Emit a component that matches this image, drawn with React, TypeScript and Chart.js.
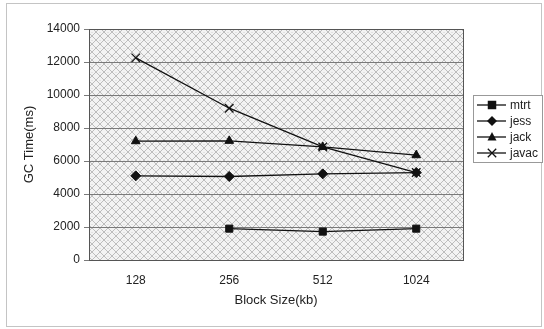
import React, { useEffect, useRef } from "react";
import { Chart, registerables } from "chart.js";

Chart.register(...registerables);

const categories = ["128", "256", "512", "1024"];
const mtrt = [null, 1900, 1720, 1900];
const jess = [5100, 5060, 5220, 5300];
const jack = [7200, 7220, 6850, 6350];
const javac = [12250, 9200, 6850, 5300];
const seriesNames = ["mtrt", "jess", "jack", "javac"];
const markerStyles = ["rect", "rectRot", "triangle", "crossRot"];
const markerRadius = [5, 5, 5, 6];

const FONT = "'Liberation Sans', Arial, sans-serif";

// diamond crosshatch fill for the plot area
function makeHatch(ctx: CanvasRenderingContext2D) {
  const c = document.createElement("canvas");
  c.width = 8;
  c.height = 8;
  const g = c.getContext("2d")!;
  g.fillStyle = "#f3f3f3";
  g.fillRect(0, 0, 8, 8);
  g.strokeStyle = "#bdbdbd";
  g.lineWidth = 1;
  g.beginPath();
  g.moveTo(0, 0);
  g.lineTo(8, 8);
  g.moveTo(8, 0);
  g.lineTo(0, 8);
  g.stroke();
  g.fillStyle = "#d2d2d2";
  g.fillRect(3.5, 0, 1, 1);
  return ctx.createPattern(c, "repeat");
}

function drawMarker(ctx: CanvasRenderingContext2D, style: string, r: number, x: number, y: number) {
  ctx.save();
  ctx.fillStyle = "#111";
  ctx.strokeStyle = "#111";
  ctx.lineWidth = 1.3;
  ctx.beginPath();
  if (style === "rect") {
    ctx.rect(x - r * 0.85, y - r * 0.85, r * 1.7, r * 1.7);
    ctx.fill();
  } else if (style === "rectRot") {
    ctx.moveTo(x, y - r);
    ctx.lineTo(x + r, y);
    ctx.lineTo(x, y + r);
    ctx.lineTo(x - r, y);
    ctx.closePath();
    ctx.fill();
  } else if (style === "triangle") {
    ctx.moveTo(x, y - r);
    ctx.lineTo(x + r * 0.9, y + r * 0.7);
    ctx.lineTo(x - r * 0.9, y + r * 0.7);
    ctx.closePath();
    ctx.fill();
  } else {
    const d = r * 0.7;
    ctx.moveTo(x - d, y - d);
    ctx.lineTo(x + d, y + d);
    ctx.moveTo(x + d, y - d);
    ctx.lineTo(x - d, y + d);
    ctx.stroke();
  }
  ctx.restore();
}

const plotBackground = {
  id: "plotBackground",
  beforeDraw(chart: any) {
    const { ctx, chartArea: a } = chart;
    ctx.save();
    ctx.fillStyle = "#fff";
    ctx.fillRect(0, 0, chart.width, chart.height);
    ctx.strokeStyle = "#c4c4c4";
    ctx.lineWidth = 1;
    ctx.strokeRect(6.5, 3.5, 535, 323);
    const p = makeHatch(ctx);
    if (p) ctx.fillStyle = p;
    ctx.fillRect(a.left, a.top, a.right - a.left, a.bottom - a.top);
    ctx.restore();
  },
  afterDatasetsDraw(chart: any) {
    const { ctx, chartArea: a } = chart;
    ctx.save();
    ctx.strokeStyle = "#555";
    ctx.lineWidth = 1;
    ctx.strokeRect(Math.round(a.left) + 0.5, Math.round(a.top) + 0.5, Math.round(a.right - a.left), Math.round(a.bottom - a.top));
    ctx.restore();
  },
};

const sideLegend = {
  id: "sideLegend",
  afterDraw(chart: any) {
    const { ctx } = chart;
    const x0 = 473, y0 = 95, w = 69, h = 67;
    ctx.save();
    ctx.fillStyle = "#fff";
    ctx.fillRect(x0, y0, w, h);
    ctx.strokeStyle = "#999";
    ctx.lineWidth = 1;
    ctx.strokeRect(x0 + 0.5, y0 + 0.5, w, h);
    ctx.font = `12px ${FONT}`;
    ctx.textBaseline = "middle";
    ctx.textAlign = "left";
    seriesNames.forEach((name, i) => {
      const y = 105 + i * 16;
      ctx.strokeStyle = "#111";
      ctx.lineWidth = 1.3;
      ctx.beginPath();
      ctx.moveTo(477, y);
      ctx.lineTo(506, y);
      ctx.stroke();
      drawMarker(ctx, markerStyles[i], markerRadius[i], 492, y);
      ctx.fillStyle = "#222";
      ctx.fillText(name, 510, y + 0.5);
    });
    ctx.restore();
  },
};

export default function App() {
  const ref = useRef<HTMLCanvasElement>(null);

  useEffect(() => {
    const canvas = ref.current!;
    const values = [mtrt, jess, jack, javac];
    const chart = new Chart(canvas, {
      type: "line",
      data: {
        labels: categories,
        datasets: seriesNames.map((name, i) => ({
          label: name,
          data: values[i] as any,
          borderColor: "#111",
          backgroundColor: "#111",
          borderWidth: 1.3,
          pointStyle: markerStyles[i] as any,
          pointRadius: markerRadius[i],
          pointBorderWidth: markerStyles[i] === "crossRot" ? 1.3 : 1,
          pointBorderColor: "#111",
          pointBackgroundColor: "#111",
          tension: 0,
          spanGaps: false,
        })),
      },
      options: {
        responsive: false,
        animation: false,
        layout: { padding: { left: 0, right: 81, top: 29, bottom: 0 } },
        plugins: { legend: { display: false }, tooltip: { enabled: false } },
        scales: {
          x: {
            type: "category",
            offset: true,
            grid: { display: false, drawTicks: false },
            border: { display: false },
            ticks: { color: "#222", font: { family: FONT, size: 12 }, padding: 13 },
            title: {
              display: true,
              text: "Block Size(kb)",
              color: "#222",
              font: { family: FONT, size: 13 },
              padding: { top: 0, bottom: 21 },
            },
            afterFit(s: any) {
              s.height = 69;
            },
          },
          y: {
            min: 0,
            max: 14000,
            ticks: {
              stepSize: 2000,
              color: "#222",
              font: { family: FONT, size: 12 },
              padding: 4,
              callback: (v: any) => String(v),
            },
            grid: { color: "#7a7a7a", lineWidth: 1, tickLength: 5, drawOnChartArea: true },
            border: { display: false },
            title: {
              display: true,
              text: "GC Time(ms)",
              color: "#222",
              font: { family: FONT, size: 13 },
              padding: { top: 22, bottom: 0 },
            },
            afterFit(s: any) {
              s.width = 89;
            },
          },
        },
      },
      plugins: [plotBackground, sideLegend],
    });
    return () => chart.destroy();
  }, []);

  return (
    <div style={{ position: "fixed", left: 0, top: 0, width: 544, height: 329, background: "#fff" }}>
      <canvas ref={ref} width={544} height={329} style={{ display: "block" }} />
    </div>
  );
}
